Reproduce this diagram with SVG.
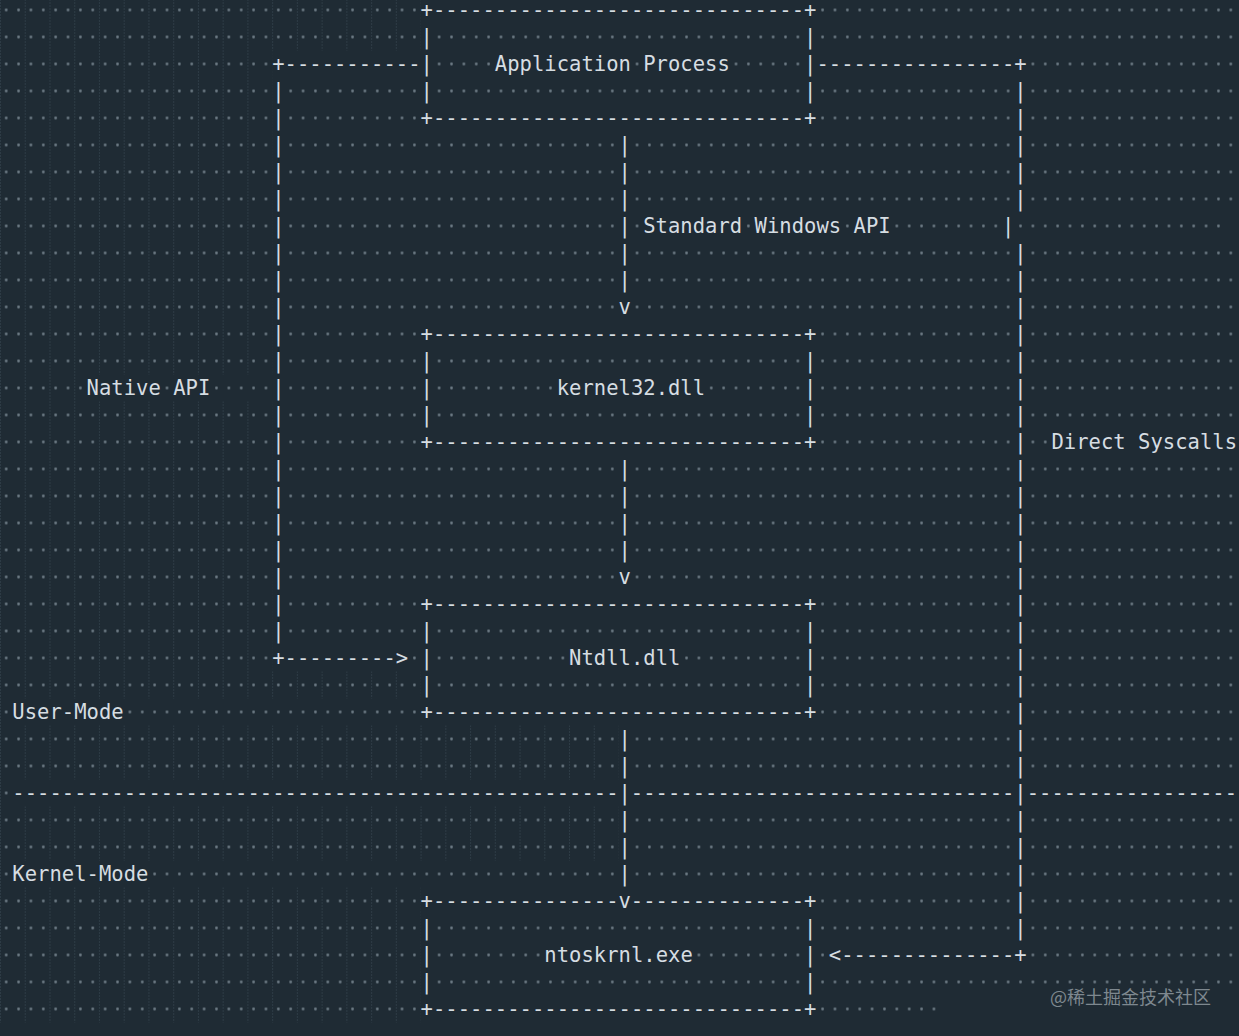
<svg xmlns="http://www.w3.org/2000/svg" width="1239" height="1036" viewBox="0 0 1239 1036">
<style>
.t{font-family:"DejaVu Sans Mono","Liberation Mono",monospace;font-size:20.5px;fill:#d6dde2;}
.wm{font-family:"Noto Sans CJK SC","Noto Sans",sans-serif;font-size:18px;fill:#7e888f;}
</style>
<defs>
<pattern id="dots" x="0" y="-3.5" width="12.37" height="27" patternUnits="userSpaceOnUse"><circle cx="6.185" cy="13.5" r="1.4" fill="#6c7a84"/></pattern>
<pattern id="guides" x="0" y="-3.5" width="24.74" height="27" patternUnits="userSpaceOnUse"><line x1="0.5" y1="0" x2="0.5" y2="27" stroke="#3b4b56" stroke-width="1" stroke-dasharray="1 2"/></pattern>
</defs>
<rect x="0" y="0" width="1239" height="1036" fill="#1f2b34"/>
<g id="indent-guides" fill="url(#guides)">
<rect x="0" y="-3.5" width="420.58" height="54"/>
<rect x="0" y="50.5" width="272.14" height="324"/>
<rect x="0" y="374.5" width="86.59" height="27"/>
<rect x="0" y="401.5" width="272.14" height="270"/>
<rect x="0" y="671.5" width="420.58" height="27"/>
<rect x="0" y="698.5" width="12.37" height="27"/>
<rect x="0" y="725.5" width="618.5" height="54"/>
<rect x="0" y="779.5" width="12.37" height="27"/>
<rect x="0" y="806.5" width="618.5" height="54"/>
<rect x="0" y="860.5" width="12.37" height="27"/>
<rect x="0" y="887.5" width="420.58" height="135"/>
</g>
<g id="whitespace" fill="url(#dots)">
<rect x="0" y="50.5" width="272.14" height="324"/>
<rect x="0" y="401.5" width="272.14" height="270"/>
<rect x="0" y="-3.5" width="420.58" height="54"/>
<rect x="0" y="671.5" width="420.58" height="27"/>
<rect x="0" y="887.5" width="420.58" height="135"/>
<rect x="0" y="374.5" width="86.59" height="27"/>
<rect x="160.81" y="374.5" width="12.37" height="27"/>
<rect x="210.29" y="374.5" width="61.85" height="27"/>
<rect x="284.51" y="77.5" width="136.07" height="54"/>
<rect x="284.51" y="320.5" width="136.07" height="135"/>
<rect x="284.51" y="590.5" width="136.07" height="54"/>
<rect x="284.51" y="131.5" width="333.99" height="189"/>
<rect x="284.51" y="455.5" width="333.99" height="135"/>
<rect x="408.21" y="644.5" width="12.37" height="27"/>
<rect x="0" y="698.5" width="12.37" height="27"/>
<rect x="123.7" y="698.5" width="296.88" height="27"/>
<rect x="0" y="725.5" width="618.5" height="54"/>
<rect x="0" y="806.5" width="618.5" height="54"/>
<rect x="0" y="779.5" width="12.37" height="27"/>
<rect x="0" y="860.5" width="12.37" height="27"/>
<rect x="148.44" y="860.5" width="470.06" height="27"/>
<rect x="432.95" y="23.5" width="371.1" height="27"/>
<rect x="432.95" y="77.5" width="371.1" height="27"/>
<rect x="432.95" y="347.5" width="371.1" height="27"/>
<rect x="432.95" y="401.5" width="371.1" height="27"/>
<rect x="432.95" y="617.5" width="371.1" height="27"/>
<rect x="432.95" y="671.5" width="371.1" height="27"/>
<rect x="432.95" y="914.5" width="371.1" height="27"/>
<rect x="432.95" y="968.5" width="371.1" height="27"/>
<rect x="432.95" y="50.5" width="61.85" height="27"/>
<rect x="630.87" y="50.5" width="12.37" height="27"/>
<rect x="729.83" y="50.5" width="74.22" height="27"/>
<rect x="432.95" y="374.5" width="123.7" height="27"/>
<rect x="705.09" y="374.5" width="99.66" height="27"/>
<rect x="432.95" y="644.5" width="136.07" height="27"/>
<rect x="680.35" y="644.5" width="123.7" height="27"/>
<rect x="432.95" y="941.5" width="111.33" height="27"/>
<rect x="692.72" y="941.5" width="111.33" height="27"/>
<rect x="630.87" y="131.5" width="383.47" height="81"/>
<rect x="630.87" y="239.5" width="383.47" height="81"/>
<rect x="630.87" y="455.5" width="383.47" height="135"/>
<rect x="630.87" y="725.5" width="383.47" height="54"/>
<rect x="630.87" y="806.5" width="383.47" height="81"/>
<rect x="630.87" y="212.5" width="12.37" height="27"/>
<rect x="742.2" y="212.5" width="12.37" height="27"/>
<rect x="841.16" y="212.5" width="12.37" height="27"/>
<rect x="890.64" y="212.5" width="111.33" height="27"/>
<rect x="1014.34" y="212.5" width="210.29" height="27"/>
<rect x="816.42" y="77.5" width="197.92" height="54"/>
<rect x="816.42" y="320.5" width="197.92" height="135"/>
<rect x="816.42" y="590.5" width="197.92" height="135"/>
<rect x="816.42" y="887.5" width="197.92" height="54"/>
<rect x="816.42" y="-3.5" width="430" height="54"/>
<rect x="816.42" y="968.5" width="430" height="27"/>
<rect x="816.42" y="941.5" width="12.37" height="27"/>
<rect x="816.42" y="995.5" width="123.7" height="27"/>
<rect x="1026.71" y="50.5" width="220" height="162"/>
<rect x="1026.71" y="239.5" width="220" height="189"/>
<rect x="1026.71" y="455.5" width="220" height="324"/>
<rect x="1026.71" y="806.5" width="220" height="162"/>
<rect x="1026.71" y="428.5" width="24.74" height="27"/>
</g>
<g id="connectors" class="t">
<text x="272.14" y="71" textLength="148.44" lengthAdjust="spacing">+-----------</text>
<text x="272.14 272.14 272.14 272.14 272.14 272.14 272.14 272.14 272.14 272.14 272.14 272.14 272.14 272.14 272.14 272.14 272.14 272.14 272.14 272.14 272.14" y="98 125 152 179 206 233 260 287 314 341 368 395 422 449 476 503 530 557 584 611 638">|||||||||||||||||||||</text>
<text x="272.14" y="665" textLength="136.07" lengthAdjust="spacing">+---------&gt;</text>
<text x="618.5 618.5 618.5 618.5 618.5 618.5 618.5" y="152 179 206 233 260 287 314">||||||v</text>
<text x="618.5 618.5 618.5 618.5 618.5" y="476 503 530 557 584">||||v</text>
<text x="618.5 618.5 618.5 618.5 618.5 618.5 618.5" y="746 773 800 827 854 881 908">||||||v</text>
<text x="816.42" y="71" textLength="210.29" lengthAdjust="spacing">----------------+</text>
<text x="1014.34 1014.34 1014.34 1014.34 1014.34" y="98 125 152 179 206">|||||</text>
<text x="1001.97" y="233">|</text>
<text x="1014.34 1014.34 1014.34 1014.34 1014.34 1014.34 1014.34 1014.34 1014.34 1014.34 1014.34 1014.34 1014.34 1014.34 1014.34 1014.34 1014.34 1014.34 1014.34 1014.34 1014.34 1014.34 1014.34 1014.34 1014.34 1014.34" y="260 287 314 341 368 395 422 449 476 503 530 557 584 611 638 665 692 719 746 773 800 827 854 881 908 935">||||||||||||||||||||||||||</text>
<text x="828.79" y="962" textLength="197.92" lengthAdjust="spacing">&lt;--------------+</text>
</g>
<g id="app-process" class="t">
<text x="420.58" y="17" textLength="395.84" lengthAdjust="spacing">+------------------------------+</text>
<text x="420.58 420.58 420.58" y="44 71 98">|||</text>
<text x="804.05 804.05 804.05" y="44 71 98">|||</text>
<text x="494.8" y="71" textLength="136.07" lengthAdjust="spacing">Application</text>
<text x="643.24" y="71" textLength="86.59" lengthAdjust="spacing">Process</text>
<text x="420.58" y="125" textLength="395.84" lengthAdjust="spacing">+------------------------------+</text>
</g>
<g id="kernel32" class="t">
<text x="420.58" y="341" textLength="395.84" lengthAdjust="spacing">+------------------------------+</text>
<text x="420.58 420.58 420.58" y="368 395 422">|||</text>
<text x="804.05 804.05 804.05" y="368 395 422">|||</text>
<text x="556.65" y="395" textLength="148.44" lengthAdjust="spacing">kernel32.dll</text>
<text x="420.58" y="449" textLength="395.84" lengthAdjust="spacing">+------------------------------+</text>
</g>
<g id="ntdll" class="t">
<text x="420.58" y="611" textLength="395.84" lengthAdjust="spacing">+------------------------------+</text>
<text x="420.58 420.58 420.58" y="638 665 692">|||</text>
<text x="804.05 804.05 804.05" y="638 665 692">|||</text>
<text x="569.02" y="665" textLength="111.33" lengthAdjust="spacing">Ntdll.dll</text>
<text x="420.58" y="719" textLength="395.84" lengthAdjust="spacing">+------------------------------+</text>
</g>
<g id="ntoskrnl" class="t">
<text x="420.58" y="908" textLength="197.92" lengthAdjust="spacing">+---------------</text>
<text x="630.87" y="908" textLength="185.55" lengthAdjust="spacing">--------------+</text>
<text x="420.58 420.58 420.58" y="935 962 989">|||</text>
<text x="804.05 804.05 804.05" y="935 962 989">|||</text>
<text x="544.28" y="962" textLength="148.44" lengthAdjust="spacing">ntoskrnl.exe</text>
<text x="420.58" y="1016" textLength="395.84" lengthAdjust="spacing">+------------------------------+</text>
</g>
<g id="labels" class="t">
<text x="86.59" y="395" textLength="74.22" lengthAdjust="spacing">Native</text>
<text x="173.18" y="395" textLength="37.11" lengthAdjust="spacing">API</text>
<text x="643.24" y="233" textLength="98.96" lengthAdjust="spacing">Standard</text>
<text x="754.57" y="233" textLength="86.59" lengthAdjust="spacing">Windows</text>
<text x="853.53" y="233" textLength="37.11" lengthAdjust="spacing">API</text>
<text x="1051.45" y="449" textLength="74.22" lengthAdjust="spacing">Direct</text>
<text x="1138.04" y="449" textLength="98.96" lengthAdjust="spacing">Syscalls</text>
<text x="12.37" y="719" textLength="111.33" lengthAdjust="spacing">User-Mode</text>
<text x="12.37" y="881" textLength="136.07" lengthAdjust="spacing">Kernel-Mode</text>
</g>
<g id="mode-divider" class="t">
<text x="12.37" y="800" textLength="606.13" lengthAdjust="spacing">-------------------------------------------------</text>
<text x="630.87" y="800" textLength="383.47" lengthAdjust="spacing">-------------------------------</text>
<text x="1026.71" y="800" textLength="210.29" lengthAdjust="spacing">-----------------</text>
</g>
<text class="wm" x="1050" y="1004">@稀土掘金技术社区</text>
</svg>
